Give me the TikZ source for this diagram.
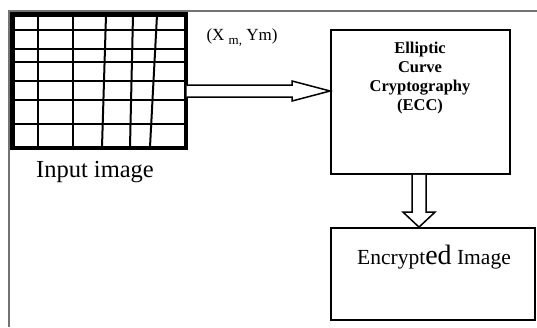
\documentclass[tikz,border=0pt]{standalone}
\usepackage{fontspec}
\setmainfont{Liberation Serif}
\usetikzlibrary{calc}
\begin{document}
\begin{tikzpicture}[x=1pt,y=-1pt,
  frame/.style={draw=black!55, line width=1.5pt},
  blockbox/.style={draw=black, line width=1.8pt, inner sep=0pt},
  gridline/.style={draw=black, line width=2pt},
  hollowarrow/.style={draw=black, line width=1.5pt, fill=white, line join=miter},
  txt/.style={inner sep=0pt, text=black}
]
\useasboundingbox (0,0) rectangle (537,327);
% outer frame
\draw[frame] (9,327) -- (9,11) -- (537,11);

% input image grid
\node[blockbox, line width=3pt, minimum width=172pt, minimum height=132pt] (img) at (99,81) {};
\foreach \xt/\xb in {38/38, 73/73, 106/102, 133/130, 157/150}
  \draw[gridline] (\xt,15) -- (\xb,147);
\foreach \yy in {30, 49, 62, 81, 100, 124}
  \draw[gridline] (13,\yy) -- (185,\yy);
\draw[black, line width=3pt] (img.north west) rectangle (img.south east);

\node[txt, font=\fontsize{24.5}{24.5}\selectfont] (inlbl) at (95,172) {Input image};

% ECC box
\node[blockbox, minimum width=179pt, minimum height=144pt] (ecc) at (420.5,102) {};
\node[txt, font=\fontsize{16.5}{19}\selectfont\bfseries, align=center] (ecclbl) at (420,78)
  {Elliptic\\Curve\\Cryptography\\(ECC)};

% coordinates label
\node[txt, font=\fontsize{17}{17}\selectfont] (xylbl) at (242,38)
  {(X \raisebox{-4pt}{\fontsize{13}{13}\selectfont m,} Ym)};

% encrypted box
\node[blockbox, minimum width=204pt, minimum height=92pt] (enc) at (433,274) {};
\node[txt, font=\fontsize{21.5}{21.5}\selectfont] (enclbl) at (434,257)
  {Encrypt{\fontsize{28}{28}\selectfont ed} Image};

% horizontal hollow arrow
\coordinate (h0) at (img.east |- 0,91);
\coordinate (h1) at (ecc.west |- 0,91);
\draw[hollowarrow]
  ($(h0)+(0,6)$) -- ($(h1)+(-38,6)$) -- ($(h1)+(-38,10)$) -- (h1)
  -- ($(h1)+(-38,-10)$) -- ($(h1)+(-38,-6)$) -- ($(h0)+(0,-6)$);

% vertical hollow arrow
\coordinate (v0) at (ecc.south -| 419,0);
\coordinate (v1) at (enc.north -| 419,0);
\draw[hollowarrow]
  ($(v0)+(-7,0)$) -- ($(v1)+(-7,-15)$) -- ($(v1)+(-16,-15)$) -- (v1)
  -- ($(v1)+(16,-15)$) -- ($(v1)+(7,-15)$) -- ($(v0)+(7,0)$);
\end{tikzpicture}
\end{document}
